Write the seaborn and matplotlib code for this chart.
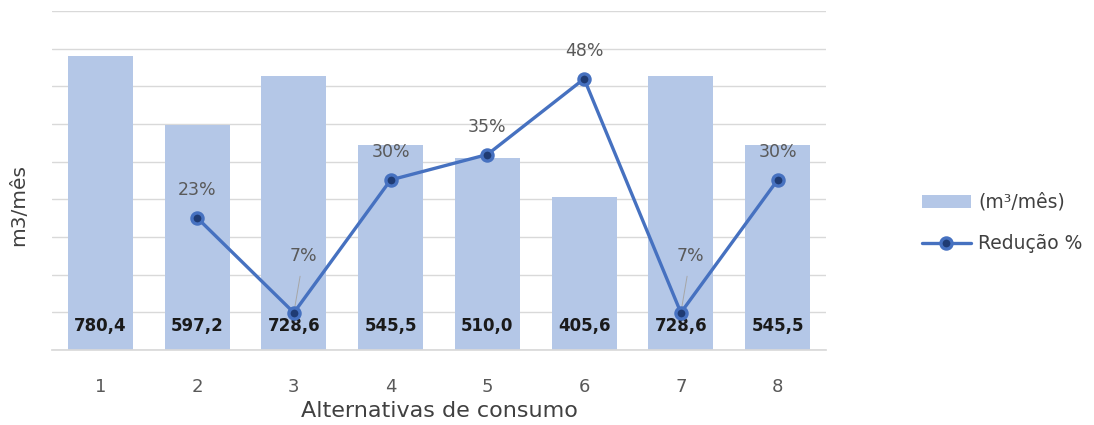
import numpy as np
import pandas as pd
import matplotlib
matplotlib.use("Agg")
import matplotlib.pyplot as plt
import seaborn as sns
from matplotlib.patches import Patch
from matplotlib.lines import Line2D

# ---- data ----
categories = ["1", "2", "3", "4", "5", "6", "7", "8"]
consumo = [780.4, 597.2, 728.6, 545.5, 510.0, 405.6, 728.6, 545.5]
reducao = [np.nan, 0.234, 0.066, 0.301, 0.346, 0.480, 0.066, 0.301]
bar_label_name = "(m³/mês)"
line_label_name = "Redução %"
x_title = "Alternativas de consumo"
y_title = "m3/mês"

sns.set_theme(style="white")
plt.rcParams["font.family"] = ["DejaVu Sans"]

BAR = "#B4C7E7"
LINE = "#4671C0"
GRID = "#D9D9D9"
TXT = "#595959"

fig = plt.figure(figsize=(10.94, 4.25), dpi=100)
ax = fig.add_axes([52 / 1094, 1 - 350 / 425, (826 - 52) / 1094, (350 - 11) / 425])

df = pd.DataFrame({"cat": categories, "consumo": consumo, "reducao": reducao})
df["pos"] = np.arange(len(categories))

sns.barplot(data=df, x="cat", y="consumo", order=categories, color=BAR,
            saturation=1, width=0.67, ax=ax, zorder=2, linewidth=0)
ax.set_ylim(0, 900)
ax.set_yticks(np.arange(0, 901, 100))
ax.yaxis.grid(True, color=GRID, linewidth=1)
ax.set_axisbelow(True)
for s in ["top", "right", "left"]:
    ax.spines[s].set_visible(False)
ax.spines["bottom"].set_color(GRID)
ax.set_xlabel(x_title, fontsize=16, color="#404040", labelpad=4)
ax.set_ylabel(y_title, fontsize=14.5, color="#404040")
ax.yaxis.set_label_coords((19 - 52) / 774, (350 - 205) / 339)
ax.yaxis.label.set_va("center")

for i, v in enumerate(consumo):
    ax.annotate(f"{v:.1f}".replace(".", ","), xy=(i, 0), xytext=(0, 17),
                textcoords="offset points", ha="center", va="center",
                fontsize=12, fontweight="bold", color="#1a1a1a", zorder=5)

ax2 = ax.twinx()
sns.lineplot(data=df.dropna(), x="pos", y="reducao", ax=ax2, color=LINE,
             linewidth=2.4, marker="o", markersize=8,
             markerfacecolor="#1F3B73", markeredgecolor=LINE,
             markeredgewidth=2.4, zorder=4)
ax2.set_ylim(0, 0.6)
ax2.set_xlim(-0.5, len(categories) - 0.5)
ax2.set_axis_off()

# tick settings after twinx (twinx re-enables left ticks)
ax.tick_params(axis="y", left=False, right=False, labelleft=False, length=0)
ax.tick_params(axis="x", bottom=False, pad=14, labelsize=13, labelcolor=TXT)

for i, v in enumerate(reducao):
    if np.isnan(v):
        continue
    txt = f"{v:.0%}"
    if v < 0.1:
        ax2.annotate(txt, xy=(i, v), xytext=(7, 41), textcoords="offset points",
                     ha="center", va="center", fontsize=12.5, color=TXT,
                     arrowprops=dict(arrowstyle="-", color="#A6A6A6", lw=0.7,
                                     shrinkA=6, shrinkB=2))
    else:
        ax2.annotate(txt, xy=(i, v), xytext=(0, 20), textcoords="offset points",
                     ha="center", va="center", fontsize=12.5, color=TXT)

handles = [Patch(facecolor=BAR, edgecolor="none"),
           Line2D([0], [0], color=LINE, linewidth=2.4, marker="o", markersize=8,
                  markerfacecolor="#1F3B73", markeredgecolor=LINE, markeredgewidth=2.4)]
fig.legend(handles, [bar_label_name, line_label_name], loc="center left",
           bbox_to_anchor=(905 / 1094, 1 - 223 / 425), frameon=False,
           fontsize=13.5, labelcolor="#404040", handlelength=2.6,
           labelspacing=1.2, handletextpad=0.4)

fig.savefig("out.png", dpi=100)
